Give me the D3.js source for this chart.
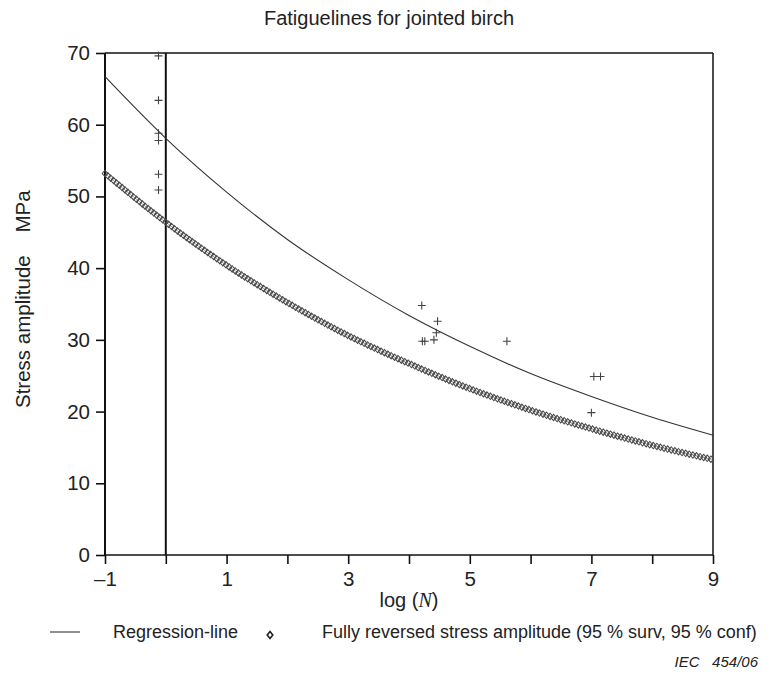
<!DOCTYPE html>
<html>
<head>
<meta charset="utf-8">
<script src="https://cdn.jsdelivr.net/npm/d3@7"></script>
<style>
  html, body { margin: 0; padding: 0; background: #fff; }
  svg { display: block; font-family: "Liberation Sans", Arial, sans-serif; }
</style>
</head>
<body>
<svg id="chart" width="776" height="679"></svg>
<script>
// log(N) positions where the two fatigue curves are tabulated
const curveLogN = [-1, 0, 1, 2, 3, 4, 5, 6, 7, 8, 9];
// Regression-line stress amplitude (MPa)
const regressionStress = [66.7, 58.1, 50.6, 44.0, 38.4, 33.4, 29.1, 25.3, 22.1, 19.2, 16.7];
// Fully reversed stress amplitude, 95 % survival / 95 % confidence (MPa)
const reversedStress = [53.2, 46.4, 40.4, 35.2, 30.6, 26.7, 23.2, 20.2, 17.6, 15.3, 13.3];

// Test results: log(N) and stress amplitude
const testLogN   = [-0.12, -0.12, -0.12, -0.12, -0.12, -0.12, 4.21, 4.47, 4.45, 4.22, 4.26, 4.41, 5.61, 7.04, 7.15, 7.00];
const testStress = [69.6, 63.4, 58.8, 57.8, 53.1, 50.9, 34.8, 32.6, 31.0, 29.8, 29.8, 30.0, 29.8, 24.9, 24.9, 19.85];

// Axis ticks
const xTickValues = [-1, 0, 1, 2, 3, 4, 5, 6, 7, 8, 9];
const xTickLabels = ["\u20131", "", "1", "", "3", "", "5", "", "7", "", "9"];
const yTickValues = [0, 10, 20, 30, 40, 50, 60, 70];

const svg = d3.select("#chart");
const W = 776, H = 679;
svg.append("rect").attr("width", W).attr("height", H).attr("fill", "#fff");

const x = d3.scaleLinear().domain([-1, 9]).range([105, 713]);
const y = d3.scaleLinear().domain([0, 70]).range([555, 53]);

// Title
svg.append("text")
  .attr("x", 389).attr("y", 25)
  .attr("text-anchor", "middle")
  .attr("font-size", 20)
  .attr("fill", "#222")
  .text("Fatiguelines for jointed birch");

// Axes
const yAxis = svg.append("g")
  .attr("transform", `translate(${x(-1)},0)`)
  .call(d3.axisLeft(y).tickValues(yTickValues).tickSize(9).tickPadding(6));
const xAxis = svg.append("g")
  .attr("transform", `translate(0,${y(0)})`)
  .call(d3.axisBottom(x).tickValues(xTickValues).tickSize(9).tickPadding(7)
    .tickFormat((d, i) => xTickLabels[i]));

[yAxis, xAxis].forEach(g => {
  g.select(".domain").remove();
  g.selectAll(".tick line").attr("stroke", "#111").attr("stroke-width", 1.6);
  g.selectAll(".tick text")
    .attr("font-family", "Liberation Sans, Arial, sans-serif")
    .attr("font-size", 20.5).attr("fill", "#222");
});

// Frame and reference line at log(N) = 0
const frame = svg.append("g").attr("stroke", "#111").attr("fill", "none");
frame.append("line").attr("x1", x(-1)).attr("x2", x(9)).attr("y1", y(70)).attr("y2", y(70)).attr("stroke-width", 1.5);
frame.append("line").attr("x1", x(9)).attr("x2", x(9)).attr("y1", y(70)).attr("y2", y(0)).attr("stroke-width", 1.5);
frame.append("line").attr("x1", x(-1)).attr("x2", x(9)).attr("y1", y(0)).attr("y2", y(0)).attr("stroke-width", 1.6);
frame.append("line").attr("x1", x(-1)).attr("x2", x(-1)).attr("y1", y(70)).attr("y2", y(0)).attr("stroke-width", 2);
frame.append("line").attr("x1", x(0)).attr("x2", x(0)).attr("y1", y(70)).attr("y2", y(0)).attr("stroke-width", 2);

// Axis titles
const xLabel = svg.append("text")
  .attr("x", x(4)).attr("y", 607)
  .attr("text-anchor", "middle")
  .attr("font-size", 20).attr("fill", "#222");
xLabel.append("tspan").text("log (");
xLabel.append("tspan").attr("font-family", "Liberation Serif, Times New Roman, serif")
  .attr("font-style", "italic").text("N");
xLabel.append("tspan").text(")");

svg.append("text")
  .attr("transform", "translate(30,408) rotate(-90)")
  .attr("text-anchor", "start")
  .attr("font-size", 20.5).attr("fill", "#222")
  .attr("xml:space", "preserve")
  .text("Stress amplitude\u00a0\u00a0\u00a0\u00a0MPa");

// Curves
const line = d3.line()
  .x(d => x(d[0])).y(d => y(d[1]))
  .curve(d3.curveMonotoneX);

svg.append("path")
  .datum(curveLogN.map((v, i) => [v, regressionStress[i]]))
  .attr("d", line)
  .attr("fill", "none")
  .attr("stroke", "#333")
  .attr("stroke-width", 1.1);

const reversedPath = svg.append("path")
  .datum(curveLogN.map((v, i) => [v, reversedStress[i]]))
  .attr("d", line)
  .attr("fill", "none")
  .attr("stroke", "#666")
  .attr("stroke-width", 0.6);

// Open-diamond markers strung along the reversed-stress curve
const diamond = "M0,-3.2L2.8,0L0,3.2L-2.8,0Z";
const pathNode = reversedPath.node();
const total = pathNode.getTotalLength();
const step = 3.7;
const markers = d3.range(0, total + 0.01, step).map(l => pathNode.getPointAtLength(l));
svg.append("g")
  .selectAll("path")
  .data(markers)
  .join("path")
  .attr("d", diamond)
  .attr("transform", p => `translate(${p.x},${p.y})`)
  .attr("fill", "none")
  .attr("stroke", "#4a4a4a")
  .attr("stroke-width", 1.05);

// Test points
svg.append("g")
  .selectAll("path")
  .data(testLogN.map((v, i) => [v, testStress[i]]))
  .join("path")
  .attr("d", "M-4,0H4M0,-4V4")
  .attr("transform", d => `translate(${x(d[0])},${y(d[1])})`)
  .attr("stroke", "#444")
  .attr("stroke-width", 1.1)
  .attr("fill", "none");

// Legend
const legend = svg.append("g").attr("font-size", 18).attr("fill", "#222");
legend.append("line")
  .attr("x1", 50).attr("x2", 80).attr("y1", 632).attr("y2", 632)
  .attr("stroke", "#333").attr("stroke-width", 1.1);
legend.append("text").attr("x", 113).attr("y", 638).text("Regression-line");
legend.append("path")
  .attr("d", "M0,-3.4L2.8,0L0,3.4L-2.8,0Z")
  .attr("transform", "translate(270,635)")
  .attr("fill", "none").attr("stroke", "#222").attr("stroke-width", 1.6);
legend.append("text").attr("x", 322).attr("y", 638)
  .text("Fully reversed stress amplitude (95 % surv, 95 % conf)");

// Figure reference
svg.append("text")
  .attr("x", 758).attr("y", 667)
  .attr("text-anchor", "end")
  .attr("font-size", 15).attr("font-style", "italic").attr("fill", "#222")
  .attr("xml:space", "preserve")
  .text("IEC\u00a0\u00a0\u00a0454/06");
</script>
</body>
</html>
